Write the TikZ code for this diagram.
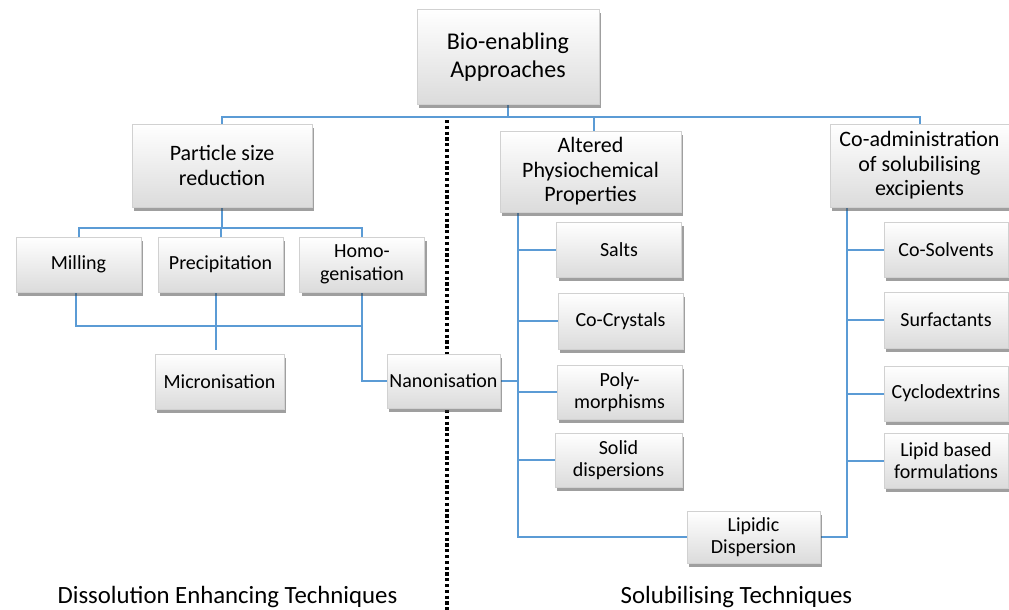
\documentclass[tikz,border=0pt]{standalone}
\usepackage{fontspec}
\setmainfont{Carlito}
\usetikzlibrary{shadows,backgrounds}
\definecolor{linkblue}{HTML}{5B9BD5}
\tikzset{
 box/.style={draw=black!18, line width=0.5pt, top color=white, bottom color=black!14,
   align=center, inner sep=0pt,
   drop shadow={shadow xshift=2pt, shadow yshift=-3.5pt, opacity=0.5, fill=black!75}},
 big/.style={box, font=\fontsize{22}{24.5}\selectfont},
 small/.style={box, font=\fontsize{20}{22.5}\selectfont, minimum width=125, minimum height=55},
 link/.style={draw=linkblue, line width=2pt},
 divider/.style={line width=3.2pt, dash pattern=on 3.2pt off 2.6pt},
 caption/.style={font=\fontsize{24.8}{28}\selectfont, anchor=base}
}
\begin{document}
\begin{tikzpicture}[x=1pt,y=-1pt]
\useasboundingbox (0,0) rectangle (1009,610);
% boxes
\node[big, font=\fontsize{24}{28}\selectfont, minimum width=182, minimum height=95] (bio) at (508,57) {Bio-enabling\\Approaches};
\node[big, minimum width=180, minimum height=83] (psr) at (222,165.5) {Particle size\\reduction};
\node[big, minimum width=181, minimum height=81] (alt) at (590.5,171.5) {Altered\\Physiochemical\\Properties};
\node[big, minimum width=179, minimum height=83] (coa) at (919.5,165.5) {Co-administration\\of solubilising\\excipients};
\node[small] (milling) at (78.5,264.5) {Milling};
\node[small] (precip) at (220.5,264.5) {Precipitation};
\node[small] (homo) at (362,264.5) {Homo-\\genisation};
\node[small, minimum width=129] (micro) at (219.5,381.5) {Micronisation};
\node[small, minimum width=113, minimum height=54] (nano) at (443.5,381) {Nanonisation};
\node[small] (salts) at (619,249.5) {Salts};
\node[small, minimum height=56] (cocr) at (620.5,321) {Co-Crystals};
\node[small, minimum height=54] (poly) at (619.5,392) {Poly-\\morphisms};
\node[small, minimum width=127, minimum height=54] (solid) at (618.5,460) {Solid\\dispersions};
\node[small, minimum width=133, minimum height=52] (lipidic) at (753.5,537) {Lipidic\\Dispersion};
\node[small, minimum width=124] (cosol) at (946,249.5) {Co-Solvents};
\node[small, minimum width=124, minimum height=56] (surf) at (946,320) {Surfactants};
\node[small, minimum width=124] (cyclo) at (946,393.5) {Cyclodextrins};
\node[small, minimum width=124] (lipid) at (946,460.5) {Lipid based\\formulations};
% captions
\node[caption] (capL) at (227.5,603) {Dissolution Enhancing Techniques};
\node[caption] (capR) at (736.5,603) {Solubilising Techniques};
% connectors
\begin{scope}[on background layer]
\coordinate (divtop) at (447,120);
\coordinate (divbot) at (447,612);
\draw[divider] (divtop) -- (divbot);
\coordinate (topbus) at (508,116.5);
\draw[link] (bio.south) -- (topbus);
\draw[link] (psr.north) |- (topbus) -| (coa.north);
\draw[link] (topbus -| alt.north) ++(3.5,0) -- ([xshift=3.5pt]alt.north);
\coordinate (bus2) at (222,228);
\draw[link] (psr.south) -- (bus2);
\draw[link] (milling.north) |- (bus2) -| (homo.north);
\draw[link] (precip.north |- bus2) -- (precip.north);
\coordinate (bus3) at (216,326);
\draw[link] ([xshift=-2.5pt]milling.south) |- (homo.south |- bus3);
\draw[link] ([xshift=-4.5pt]precip.south) -- ([xshift=-3.5pt,yshift=4pt]micro.north);
\draw[link] (homo.south) |- (nano.west);
\coordinate (av) at ([xshift=-72.5pt]alt.south);
\draw[link] (av) |- (lipidic.west);
\draw[link] (nano.east) -- (nano.east -| av);
\draw[link] (salts.west) -- (salts.west -| av);
\draw[link] (cocr.west) -- (cocr.west -| av);
\draw[link] (poly.west) -- (poly.west -| av);
\draw[link] (solid.west) -- (solid.west -| av);
\coordinate (cv) at ([xshift=-72.5pt]coa.south);
\draw[link] (cv) |- (lipidic.east);
\draw[link] (cosol.west) -- (cosol.west -| cv);
\draw[link] (surf.west) -- (surf.west -| cv);
\draw[link] (cyclo.west) -- (cyclo.west -| cv);
\draw[link] (lipid.west) -- (lipid.west -| cv);
\end{scope}
\end{tikzpicture}
\end{document}
